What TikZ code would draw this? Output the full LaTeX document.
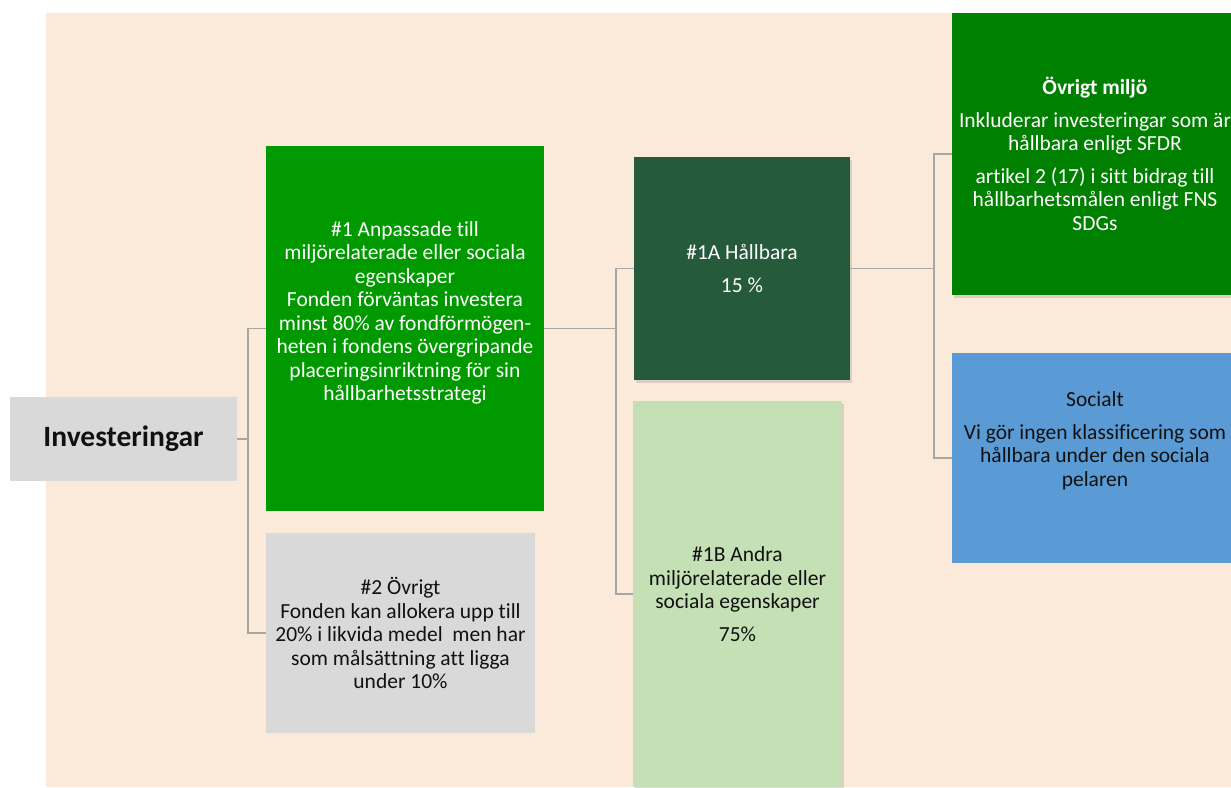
\documentclass[tikz,border=0pt]{standalone}
\usepackage{fontspec}
\setmainfont[Ligatures=NoCommon]{Carlito}
\usetikzlibrary{shadows}
\definecolor{bgpeach}{HTML}{FBE9D9}
\definecolor{boxgray}{HTML}{D9D9D9}
\definecolor{greenA}{HTML}{009A00}
\definecolor{greenDark}{HTML}{255A3B}
\definecolor{greenLight}{HTML}{C5E0B4}
\definecolor{greenMid}{HTML}{008000}
\definecolor{blueSoc}{HTML}{5B9BD5}
\definecolor{linegray}{HTML}{A6A6A6}
\definecolor{txtdark}{HTML}{111111}
\tikzset{
  boxnode/.style={inner sep=0pt, outer sep=0pt, align=center, font=\fontsize{21.5}{23.5}\selectfont},
  txtnode/.style={inner sep=0pt, align=center, font=\fontsize{21.5}{23.5}\selectfont},
  softshadow/.style={drop shadow={opacity=0.25, shadow xshift=2pt, shadow yshift=-3pt}},
  conn/.style={draw=linegray, line width=1.4pt}
}
\begin{document}
\begin{tikzpicture}[x=1pt,y=-1pt]
\useasboundingbox (0,0) rectangle (1231,787);
\fill[bgpeach] (46,13) rectangle (1231,787);

% nodes
\node[boxnode, fill=boxgray, minimum width=227pt, minimum height=84pt, text=txtdark,
      font=\fontsize{29.5}{32}\selectfont\bfseries] (inv) at (123.5,439) {Investeringar};

\node[boxnode, fill=greenA, minimum width=278pt, minimum height=365pt] (n1) at (405,328.5) {};
\node[txtnode, text=white] (n1t) at (405,313) {\#1 Anpassade till\\miljörelaterade eller sociala\\egenskaper\\Fonden förväntas investera\\minst 80\% av fondförmögen-\\heten i fondens övergripande\\placeringsinriktning för sin\\hållbarhetsstrategi};

\node[boxnode, fill=boxgray, minimum width=269pt, minimum height=200pt, text=txtdark] (n2) at (400.5,633)
  {\#2 Övrigt\\Fonden kan allokera upp till\\20\% i likvida medel~ men har\\som målsättning att ligga\\under 10\%};

\node[boxnode, fill=greenDark, softshadow, minimum width=216pt, minimum height=223pt, text=white] (n1a) at (742,268.5)
  {\#1A Hållbara\\[9pt]15 \%};

\node[boxnode, fill=greenLight, softshadow, minimum width=209pt, minimum height=386pt, text=txtdark] (n1b) at (737.5,594)
  {\#1B Andra\\miljörelaterade eller\\sociala egenskaper\\[9pt]75\%};

\node[boxnode, fill=greenMid, softshadow, minimum width=286pt, minimum height=282pt, text=white] (ovr) at (1095,154)
  {\textbf{Övrigt miljö}\\[9pt]Inkluderar investeringar som är\\hållbara enligt SFDR\\[9pt]artikel 2 (17) i sitt bidrag till\\hållbarhetsmålen enligt FNS\\SDGs};

\node[boxnode, fill=blueSoc, minimum width=286pt, minimum height=210pt] (soc) at (1095,458) {};
\node[txtnode, text=txtdark] (soct) at (1095,441)
  {Socialt\\[9pt]Vi gör ingen klassificering som\\hållbara under den sociala\\pelaren};

% junctions
\coordinate (j1) at (248,439);
\coordinate (j2) at (616,328.5);
\coordinate (j3) at (934,268.5);

% connectors
\draw[conn] (inv.east) -- (j1);
\draw[conn] (j1) |- (n1.west);
\draw[conn] (j1) |- (n2.west);
\draw[conn] (n1.east) -- (j2);
\draw[conn] (j2) |- (n1a.west);
\draw[conn] (j2) |- (n1b.west);
\draw[conn] (n1a.east) -- (j3);
\draw[conn] (j3) |- (ovr.west);
\draw[conn] (j3) |- (soc.west);
\end{tikzpicture}
\end{document}
